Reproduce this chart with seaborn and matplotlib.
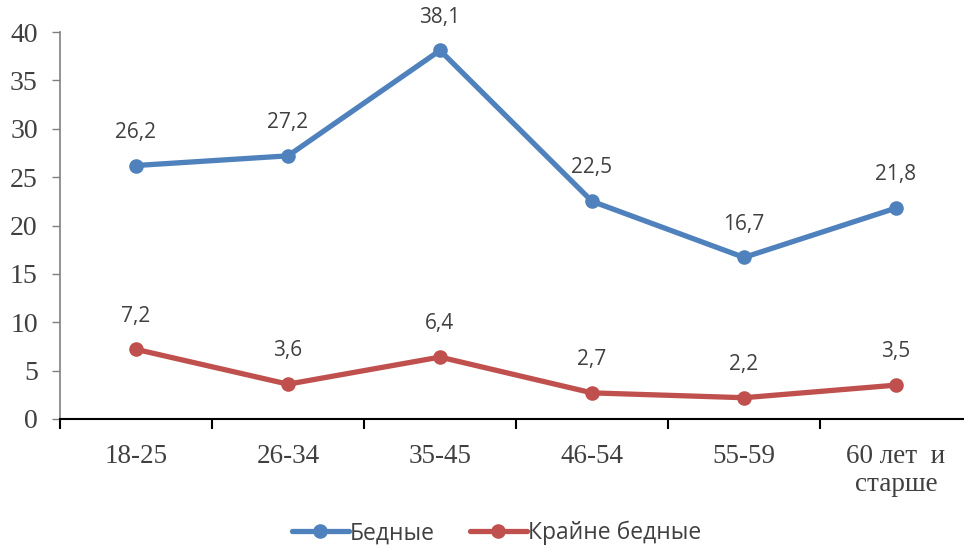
import numpy as np
import pandas as pd
import matplotlib
matplotlib.use("Agg")
import matplotlib.pyplot as plt
from matplotlib.lines import Line2D
import seaborn as sns

# Chart data
age_groups = ["18-25", "26-34", "35-45", "46-54", "55-59", "60 лет  и\nстарше"]
poor = [26.2, 27.2, 38.1, 22.5, 16.7, 21.8]
extreme_poor = [7.2, 3.6, 6.4, 2.7, 2.2, 3.5]
series_names = ["Бедные", "Крайне бедные"]
colors = ["#4F81BD", "#C0504D"]

df = pd.DataFrame({
    "x": list(range(len(age_groups))) * 2,
    "value": poor + extreme_poor,
    "series": [series_names[0]] * len(poor) + [series_names[1]] * len(extreme_poor),
})

sns.set_style("white")
serif = ["Liberation Serif", "DejaVu Serif"]
sans = ["Open Sans", "DejaVu Sans"]

fig = plt.figure(figsize=(9.64, 5.48), dpi=100)
ax = fig.add_axes([60 / 964, 129 / 548, 912 / 964, 387 / 548])

sns.lineplot(
    data=df, x="x", y="value", hue="series", palette=colors,
    marker="o", markersize=10.5, markeredgewidth=0, linewidth=3.8,
    legend=False, ax=ax,
)

# data labels
for vals in (poor, extreme_poor):
    for i, v in enumerate(vals):
        ax.annotate(f"{v:.1f}".replace(".", ","), (i, v), xytext=(0, 24),
                    textcoords="offset points", ha="center", va="center",
                    fontsize=15, color="#404040", family=sans)

ax.set_xlim(-0.5, len(age_groups) - 0.5)
ax.set_ylim(0, 40)
ax.set_yticks(np.arange(0, 41, 5))
ax.set_yticklabels([str(t) for t in range(0, 41, 5)], family=serif, fontsize=20, color="#404040")
ax.set_xticks(range(len(age_groups)))
ax.set_xticklabels(age_groups, family=serif, fontsize=19.5, color="#404040", linespacing=1.15)
ax.set_xticks(np.arange(-0.5, len(age_groups), 1), minor=True)
ax.tick_params(axis="x", which="major", bottom=True, length=0, pad=18)
ax.tick_params(axis="x", which="minor", bottom=True, length=7, width=1.5, direction="out", color="black")
ax.tick_params(axis="y", left=True, length=6, width=1, direction="out", color="#808080", pad=10)
ax.set_xlabel("")
ax.set_ylabel("")

sns.despine(ax=ax, top=True, right=True)
ax.spines["left"].set_color("#808080")
ax.spines["left"].set_linewidth(1.2)
ax.spines["bottom"].set_color("black")
ax.spines["bottom"].set_linewidth(1.5)

handles = [Line2D([0], [0], color=c, lw=3.8, marker="o", markersize=10.5, markeredgewidth=0)
           for c in colors]
leg = fig.legend(handles, series_names, loc="center", bbox_to_anchor=(0.515, 0.027),
                 ncol=2, frameon=False, handlelength=2.5, handletextpad=0.05,
                 columnspacing=1.5, prop={"family": sans, "size": 16.5})
for t in leg.get_texts():
    t.set_color("#404040")

fig.savefig("out.png", dpi=100)
